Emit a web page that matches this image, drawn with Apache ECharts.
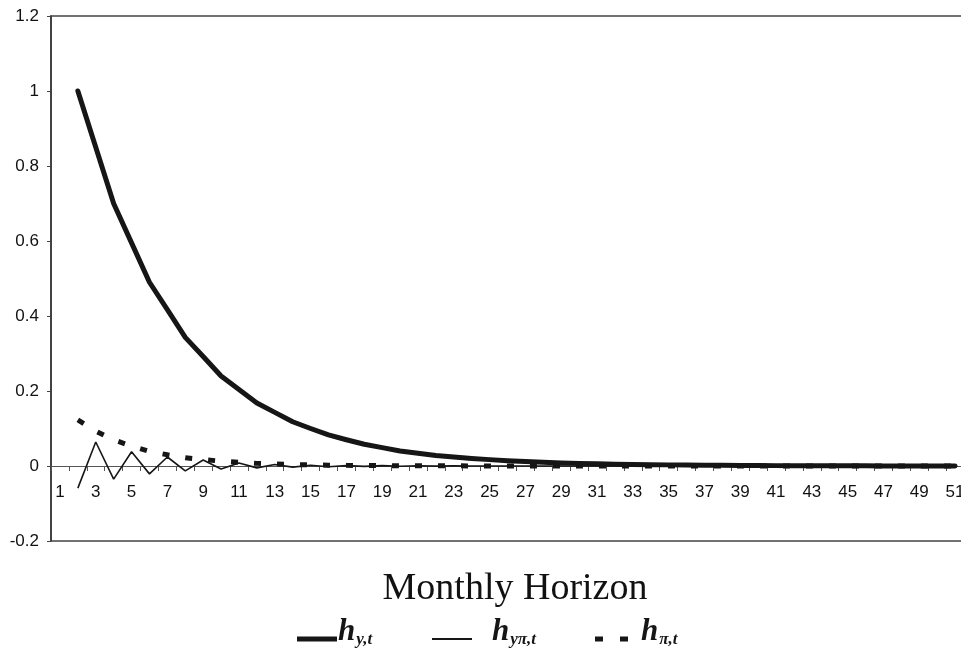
<!DOCTYPE html>
<html>
<head>
<meta charset="utf-8">
<script src="https://cdn.jsdelivr.net/npm/echarts@6/dist/echarts.min.js"></script>
<style>html,body{margin:0;padding:0;background:#fff}#c{width:961px;height:649px}</style>
</head>
<body>
<div id="c"></div>
<script>
var categories = ['1','2','3','4','5','6','7','8','9','10','11','12','13','14','15','16','17','18','19','20','21','22','23','24','25','26','27','28','29','30','31','32','33','34','35','36','37','38','39','40','41','42','43','44','45','46','47','48','49','50','51'];
var hY = [null,1.0,0.85,0.70,0.595,0.49,0.417,0.343,0.292,0.24,0.204,0.168,0.143,0.118,0.100,0.083,0.070,0.058,0.049,0.040,0.034,0.028,0.024,0.020,0.017,0.014,0.012,0.010,0.008,0.007,0.006,0.005,0.004,0.0035,0.003,0.0025,0.002,0.0017,0.0014,0.0012,0.001,0.0008,0.0007,0.0006,0.0005,0.0004,0.0003,0.0003,0.0002,0.0002,0.0001];
var hYPi = [null,-0.059,0.064,-0.035,0.038,-0.021,0.024,-0.013,0.016,-0.008,0.008,-0.005,0.004,-0.003,0.002,-0.002,0.001,-0.001,0.001,-0.0005,0.0005,-0.0003,0.0003,-0.0002,0.0002,-0.0001,0.0001,0,0,0,0,0,0,0,0,0,0,0,0,0,0,0,0,0,0,0,0,0,0,0,0];
var hPi = [null,0.123,0.093,0.070,0.053,0.039,0.030,0.022,0.017,0.013,0.010,0.007,0.0055,0.004,0.003,0.0023,0.0017,0.0013,0.001,0.0008,0.0006,0.0005,0.0004,0.0003,0.0002,0.0002,0.0001,0.0001,0.0001,0,0,0,0,0,0,0,0,0,0,0,0,0,0,0,0,0,0,0,0,0,0];
var yTicks = {min: -0.2, max: 1.2, interval: 0.2};
var legendLabels = {hy: '{h|h}{s|y,t}', hyp: '{h|h}{s|yπ,t}', hp: '{h|h}{s|π,t}'};

var chart = echarts.init(document.getElementById('c'));
var ink = '#161616';
var legendRich = {
  h: {fontFamily: 'Liberation Serif', fontStyle: 'italic', fontWeight: 'bold', fontSize: 31, color: ink, lineHeight: 30},
  s: {fontFamily: 'Liberation Serif', fontStyle: 'italic', fontWeight: 'bold', fontSize: 17, color: ink, lineHeight: 30, padding: [15, 0, 0, 1]}
};
function mkLegend(name, left, icon, w, h, gap) {
  return {
    data: [{name: name, icon: icon}], left: left, top: 616, itemWidth: w, itemHeight: h, padding: 0,
    selectedMode: false, itemStyle: {color: ink, borderWidth: 0},
    formatter: function (n) { return legendLabels[n]; },
    textStyle: {padding: [0, 0, 14, gap], rich: legendRich}
  };
}
var option = {
  animation: false,
  backgroundColor: '#fff',
  title: {
    text: 'Monthly Horizon', left: 510, top: 565, textAlign: 'center',
    textStyle: {fontFamily: 'Liberation Serif', fontWeight: 'normal', fontSize: 38, color: '#111'}
  },
  legend: [
    mkLegend('hy', 297, 'path://M0,0h40v5h-40z', 40, 5, -4),
    mkLegend('hyp', 432, 'path://M0,0h40v2h-40z', 40, 2, 15),
    mkLegend('hp', 595, 'path://M0,0h8v5h-8zM25,0h8v5h-8z', 33, 5, 8)
  ],
  grid: {left: 51, right: -3, top: 16, bottom: 108, outerBoundsMode: 'none', containLabel: false,
         show: true, borderColor: '#444', borderWidth: 1.5, backgroundColor: 'transparent'},
  xAxis: {
    type: 'category', data: categories, boundaryGap: true,
    axisLine: {onZero: true, lineStyle: {color: '#555', width: 1}},
    axisTick: {show: true, interval: 0, length: 5, lineStyle: {color: '#555'}},
    axisLabel: {interval: 1, margin: -57, fontFamily: 'Liberation Sans', fontSize: 17, color: '#111'},
    splitLine: {show: false}
  },
  yAxis: {
    type: 'value', min: yTicks.min, max: yTicks.max, interval: yTicks.interval,
    axisLine: {show: true, onZero: false, lineStyle: {color: '#333', width: 1.5}},
    axisTick: {show: true, length: 4, lineStyle: {color: '#444'}},
    axisLabel: {margin: 12, fontFamily: 'Liberation Sans', fontSize: 17, color: '#111'},
    splitLine: {show: false}
  },
  series: [
    {name: 'hy', type: 'line', data: hY, symbol: 'none', smooth: false,
     lineStyle: {color: ink, width: 5, cap: 'round', join: 'round'}, itemStyle: {color: ink}, z: 3},
    {name: 'hyp', type: 'line', data: hYPi, symbol: 'none',
     lineStyle: {color: ink, width: 1.6}, itemStyle: {color: ink}, z: 4},
    {name: 'hp', type: 'line', data: hPi, symbol: 'none',
     lineStyle: {color: ink, width: 5, type: [7, 16], cap: 'butt'}, itemStyle: {color: ink}, z: 2}
  ]
};
chart.setOption(option);
</script>
</body>
</html>
